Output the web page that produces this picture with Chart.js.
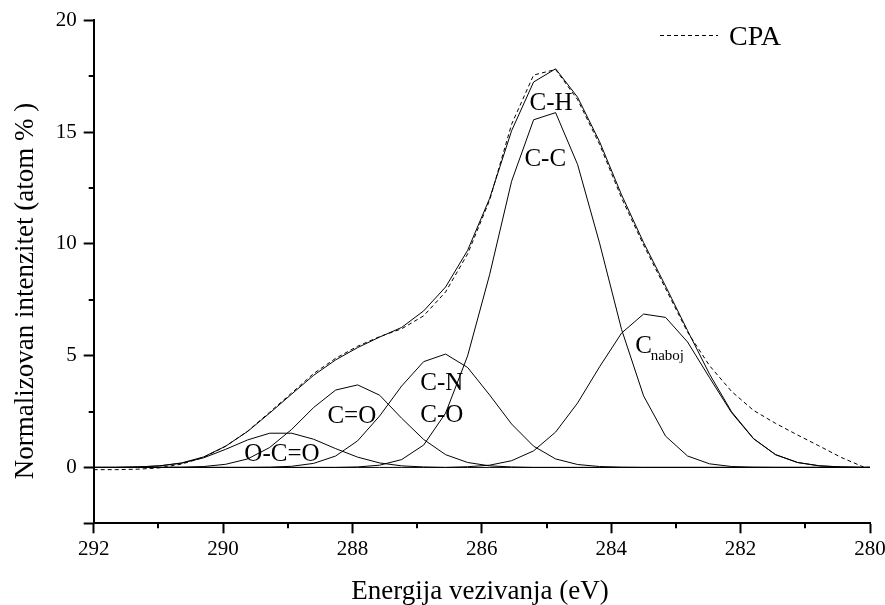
<!DOCTYPE html>
<html>
<head>
<meta charset="utf-8">
<script src="https://cdn.jsdelivr.net/npm/chart.js@4.4.0/dist/chart.umd.min.js"></script>
<style>
	body { margin: 0; background: #fff; }
</style>
</head>
<body>
<canvas id="myChart" width="885" height="605"></canvas>
<script>
// binding energy grid (eV)
const energy = [292.00, 291.66, 291.32, 290.98, 290.64, 290.30, 289.96, 289.62, 289.28, 288.94, 288.60, 288.26, 287.92, 287.58, 287.24, 286.90, 286.56, 286.22, 285.88, 285.54, 285.20, 284.86, 284.52, 284.18, 283.84, 283.50, 283.16, 282.82, 282.48, 282.14, 281.80, 281.46, 281.12, 280.78, 280.44, 280.10, 280.00];

// fitted components
const ocoValues = [0, 0, 0.02, 0.07, 0.19, 0.43, 0.81, 1.23, 1.53, 1.53, 1.26, 0.84, 0.46, 0.20, 0.07, 0.02, 0, 0, 0, 0, 0, 0, 0, 0, 0, 0, 0, 0, 0, 0, 0, 0, 0, 0, 0, 0, 0];
const coValues = [0, 0, 0, 0, 0.01, 0.04, 0.14, 0.38, 0.89, 1.70, 2.68, 3.46, 3.69, 3.23, 2.20, 1.25, 0.57, 0.22, 0.07, 0.02, 0, 0, 0, 0, 0, 0, 0, 0, 0, 0, 0, 0, 0, 0, 0, 0, 0];
const cnValues = [0, 0, 0, 0, 0, 0, 0, 0, 0.01, 0.05, 0.18, 0.51, 1.19, 2.30, 3.64, 4.73, 5.07, 4.47, 3.24, 1.94, 0.95, 0.38, 0.13, 0.04, 0.01, 0, 0, 0, 0, 0, 0, 0, 0, 0, 0, 0, 0];
const ccValues = [0, 0, 0, 0, 0, 0, 0, 0, 0, 0, 0, 0, 0.02, 0.10, 0.35, 1.00, 2.43, 4.99, 8.62, 12.80, 15.55, 15.87, 13.55, 10.03, 6.17, 3.20, 1.40, 0.51, 0.16, 0.04, 0.01, 0, 0, 0, 0, 0, 0];
const nabojValues = [0, 0, 0, 0, 0, 0, 0, 0, 0, 0, 0, 0, 0, 0, 0, 0, 0, 0.03, 0.10, 0.30, 0.74, 1.58, 2.88, 4.50, 6.01, 6.86, 6.71, 5.61, 4.01, 2.45, 1.28, 0.57, 0.22, 0.07, 0.02, 0, 0];
// sum of the fit (C-H envelope)
const fitValues = [0, 0, 0.02, 0.07, 0.20, 0.47, 0.95, 1.61, 2.43, 3.28, 4.12, 4.81, 5.36, 5.83, 6.26, 7.00, 8.07, 9.71, 12.03, 15.06, 17.24, 17.83, 16.56, 14.57, 12.19, 10.06, 8.11, 6.12, 4.17, 2.49, 1.29, 0.57, 0.22, 0.07, 0.02, 0, 0];
// measured spectrum
const cpaValues = [-0.10, -0.10, -0.08, -0.02, 0.15, 0.45, 0.95, 1.62, 2.47, 3.33, 4.20, 4.88, 5.42, 5.85, 6.20, 6.78, 7.85, 9.55, 11.95, 15.35, 17.55, 17.80, 16.45, 14.45, 12.05, 9.95, 8.00, 6.05, 4.55, 3.40, 2.55, 1.97, 1.45, 0.95, 0.44, 0.02, 0];

const xMinorTicks = [291, 289, 287, 285, 283, 281];
const yMinorTicks = [2.5, 7.5, 12.5, 17.5];

const FONT = "'Liberation Serif', 'Times New Roman', serif";

const labels = [
	{ text: "C-H", x: 284.93, y: 16.0 },
	{ text: "C-C", x: 285.02, y: 13.48 },
	{ text: "C=O", x: 288.01, y: 2.0 },
	{ text: "C-N", x: 286.62, y: 3.46 },
	{ text: "C-O", x: 286.62, y: 2.04 },
	{ text: "O-C=O", x: 289.09, y: 0.3 },
];

const toPoints = (values) => values.map((v, i) => ({ x: energy[i], y: v }));

const line = (label, values, dash) => ({
	label: label,
	data: toPoints(values),
	borderColor: "#000",
	borderWidth: 1,
	borderDash: dash || [],
	pointRadius: 0,
	tension: 0,
	fill: false,
});

const extras = {
	id: "extras",
	afterDraw(chart) {
		const { ctx, chartArea, scales } = chart;
		const sx = scales.x;
		const sy = scales.y;
		ctx.save();
		ctx.strokeStyle = "#000";
		ctx.fillStyle = "#000";

		// minor ticks
		ctx.lineWidth = 2;
		ctx.beginPath();
		xMinorTicks.forEach((v) => {
			const px = Math.round(sx.getPixelForValue(v));
			ctx.moveTo(px, chartArea.bottom);
			ctx.lineTo(px, chartArea.bottom + 5);
		});
		yMinorTicks.forEach((v) => {
			const py = Math.round(sy.getPixelForValue(v));
			ctx.moveTo(chartArea.left - 5, py);
			ctx.lineTo(chartArea.left, py);
		});
		ctx.stroke();

		// peak labels
		ctx.font = "25px " + FONT;
		ctx.textAlign = "center";
		ctx.textBaseline = "alphabetic";
		labels.forEach((l) => {
			ctx.fillText(l.text, sx.getPixelForValue(l.x), sy.getPixelForValue(l.y));
		});
		ctx.textAlign = "left";
		ctx.fillText("C", sx.getPixelForValue(283.63), sy.getPixelForValue(5.10));
		ctx.font = "15px " + FONT;
		ctx.fillText("naboj", sx.getPixelForValue(283.39), sy.getPixelForValue(4.82));

		// legend
		ctx.lineWidth = 1;
		ctx.setLineDash([4, 3]);
		ctx.beginPath();
		ctx.moveTo(660, 35.5);
		ctx.lineTo(718, 35.5);
		ctx.stroke();
		ctx.setLineDash([]);
		ctx.font = "28px " + FONT;
		ctx.fillText("CPA", 729, 45);

		// axis titles
		ctx.font = "27px " + FONT;
		ctx.textAlign = "center";
		ctx.fillText("Energija vezivanja (eV)", 480, 599);
		ctx.translate(33, 291);
		ctx.rotate(-Math.PI / 2);
		ctx.fillText("Normalizovan intenzitet (atom % )", 0, 0);
		ctx.restore();
	},
};

const tickFont = { family: FONT, size: 21 };

new Chart(document.getElementById("myChart"), {
	type: "line",
	data: {
		datasets: [
			line("O-C=O", ocoValues),
			line("C=O", coValues),
			line("C-N / C-O", cnValues),
			line("C-C", ccValues),
			line("C naboj", nabojValues),
			line("C-H", fitValues),
			line("CPA", cpaValues, [4, 3]),
		],
	},
	options: {
		responsive: false,
		animation: false,
		layout: { padding: { left: 0, right: 15, top: 20.3, bottom: 0 } },
		plugins: { legend: { display: false }, tooltip: { enabled: false } },
		scales: {
			x: {
				type: "linear",
				reverse: true,
				min: 280,
				max: 292,
				border: { display: true, color: "#000", width: 2 },
				grid: {
					drawOnChartArea: false,
					tickLength: 10,
					tickWidth: 2,
					tickColor: (c) => (c.tick && c.tick.value % 2 === 0 ? "#000" : "rgba(0,0,0,0)"),
				},
				ticks: {
					stepSize: 1,
					autoSkip: false,
					maxRotation: 0,
					padding: 4,
					color: "#000",
					font: tickFont,
					callback: (v) => (v % 2 === 0 ? v : ""),
				},
				afterFit: (s) => {
					s.height = 81.7;
					s.paddingLeft = 0;
					s.paddingRight = 0;
				},
			},
			y: {
				min: -2.5,
				max: 20,
				border: { display: true, color: "#000", width: 2 },
				grid: {
					drawOnChartArea: false,
					tickLength: 10,
					tickWidth: 2,
					tickColor: (c) => (c.tick && (c.tick.value % 5 === 0 || c.tick.value === -2.5) ? "#000" : "rgba(0,0,0,0)"),
				},
				ticks: {
					stepSize: 2.5,
					autoSkip: false,
					padding: 7,
					color: "#000",
					font: tickFont,
					callback: (v) => (v % 5 === 0 ? v : ""),
				},
				afterFit: (s) => {
					s.width = 93.7;
					s.paddingTop = 0;
					s.paddingBottom = 0;
				},
			},
		},
	},
	plugins: [extras],
});
</script>
</body>
</html>
